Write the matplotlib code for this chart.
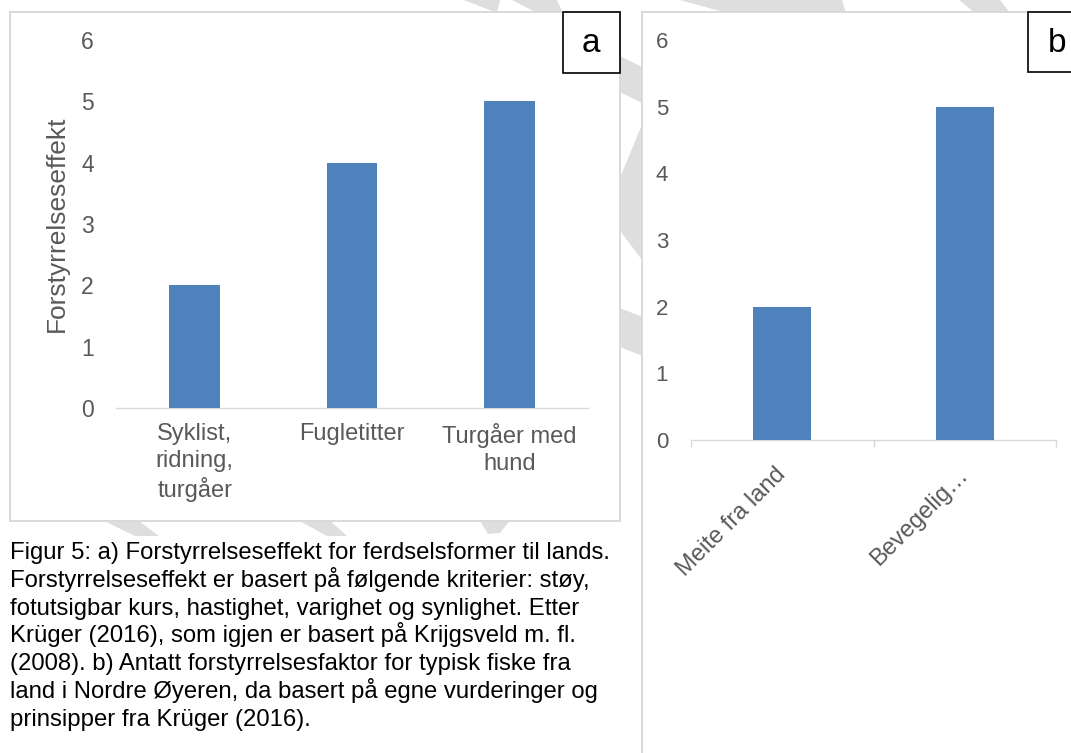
import matplotlib
matplotlib.use("Agg")
import matplotlib.pyplot as plt
from matplotlib.patches import Rectangle, Polygon
from matplotlib.transforms import ScaledTranslation

plt.rcParams['font.family'] = ['Liberation Sans', 'DejaVu Sans']

# figure size in pixels (dpi 100)
W, H = 1071, 753

# a) ferdselsformer til lands
kategorier_a = ['Syklist,\nridning,\nturgåer', 'Fugletitter', 'Turgåer med\nhund']
effekt_a = [2, 4, 5]

# b) fiske fra land
kategorier_b = ['Meite fra land', 'Bevegelig…']
effekt_b = [2, 5]

y_ticks = [0, 1, 2, 3, 4, 5, 6]

caption_lines = [
    'Figur 5: a) Forstyrrelseseffekt for ferdselsformer til lands.',
    'Forstyrrelseseffekt er basert på følgende kriterier: støy,',
    'fotutsigbar kurs, hastighet, varighet og synlighet. Etter',
    'Krüger (2016), som igjen er basert på Krijgsveld m. fl.',
    '(2008). b) Antatt forstyrrelsesfaktor for typisk fiske fra',
    'land i Nordre Øyeren, da basert på egne vurderinger og',
    'prinsipper fra Krüger (2016).',
]

bar_color = '#4f81bd'
grey_text = '#595959'
axis_grey = '#d9d9d9'
mark_grey = '#dedede'


def px(x, y):
    # pixel coords (origin top-left) -> figure fraction
    return (x / W, 1 - y / H)


def px_rect(x0, y0, x1, y1, **kw):
    return Rectangle(px(x0, y1), (x1 - x0) / W, (y1 - y0) / H,
                     transform=fig.transFigure, **kw)


fig = plt.figure(figsize=(W / 100, H / 100), dpi=100)

# faint draft watermark, only visible between the panels
watermark = [
    [(464, 0), (500, 0), (497, 13)],
    [(512, 0), (557, 0), (563, 13), (537, 13)],
    [(680, 0), (842, 0), (846, 13), (720, 11)],
    [(959, 0), (1000, 0), (1010, 13), (975, 13)],
    [(612, 52), (648, 70), (648, 106), (612, 88)],
    [(612, 197), (648, 110), (648, 268), (612, 220)],
    [(612, 305), (648, 319), (648, 358), (612, 344)],
    [(98, 518), (135, 518), (159, 536), (135, 536)],
    [(294, 518), (327, 518), (347, 536), (327, 536)],
    [(478, 518), (512, 518), (500, 533), (488, 534)],
]
for pts in watermark:
    fig.patches.append(Polygon([px(x, y) for x, y in pts], closed=True,
                               transform=fig.transFigure, facecolor=mark_grey,
                               edgecolor='none', zorder=0))

# panel frames
fig.patches.append(px_rect(9.5, 12, 619.5, 521, facecolor='white',
                           edgecolor=axis_grey, lw=1.4, zorder=1))
fig.patches.append(px_rect(642, 12, 1090, 770, facecolor='white',
                           edgecolor=axis_grey, lw=1.4, zorder=1))

# ---- panel a ----
ax1 = fig.add_axes([116 / W, 1 - 408 / H, (588 - 116) / W, (408 - 40) / H])
ax1.set_zorder(3)
ax1.set_facecolor('none')
xa = list(range(len(kategorier_a)))
ax1.bar(xa, effekt_a, width=0.32, color=bar_color, zorder=3)
ax1.set_xlim(-0.5, len(kategorier_a) - 0.5)
ax1.set_ylim(0, 6)
ax1.set_yticks(y_ticks)
ax1.set_xticks(xa)
ax1.set_xticklabels(kategorier_a, linespacing=1.25)
for s in ['top', 'right', 'left']:
    ax1.spines[s].set_visible(False)
ax1.spines['bottom'].set_color(axis_grey)
ax1.spines['bottom'].set_linewidth(1.0)
ax1.tick_params(axis='x', length=0, pad=11, labelsize=17, labelcolor=grey_text)
ax1.tick_params(axis='y', length=0, pad=16, labelsize=16.5, labelcolor=grey_text)
ax1.set_ylabel('Forstyrrelseseffekt', fontsize=19, color=grey_text)
ax1.yaxis.set_label_coords(-0.1, 0.5)

# ---- panel b ----
ax2 = fig.add_axes([691 / W, 1 - 440 / H, (1056 - 691) / W, (440 - 40) / H])
ax2.set_zorder(3)
ax2.set_facecolor('none')
xb = list(range(len(kategorier_b)))
ax2.bar(xb, effekt_b, width=0.318, color=bar_color, zorder=3)
ax2.set_xlim(-0.5, len(kategorier_b) - 0.5)
ax2.set_ylim(0, 6)
ax2.set_yticks(y_ticks)
ax2.set_xticks(xb)
ax2.set_xticks([i - 0.5 for i in range(len(kategorier_b) + 1)], minor=True)
ax2.set_xticklabels(kategorier_b, rotation=45, ha='right', va='top',
                    rotation_mode='anchor')
for s in ['top', 'right', 'left']:
    ax2.spines[s].set_visible(False)
ax2.spines['bottom'].set_color(axis_grey)
ax2.spines['bottom'].set_linewidth(1.0)
ax2.tick_params(axis='x', which='major', length=0, pad=17, labelsize=17,
                labelcolor=grey_text)
ax2.tick_params(axis='x', which='minor', length=5, width=1.0, color=axis_grey)
ax2.tick_params(axis='y', length=0, pad=16.5, labelsize=16, labelcolor=grey_text)
shift = ScaledTranslation(-8 / 100, 0, fig.dpi_scale_trans)
for lab in ax2.get_xticklabels():
    lab.set_transform(lab.get_transform() + shift)

# panel letters
fig.patches.append(px_rect(563, 12, 620, 73, facecolor='white',
                           edgecolor='black', lw=1.2, zorder=5))
fig.text(*px(591, 44), 'a', fontsize=24, ha='center', va='center', zorder=6)
fig.patches.append(px_rect(1028, 12, 1090, 72, facecolor='white',
                           edgecolor='black', lw=1.2, zorder=5))
fig.text(*px(1057, 44), 'b', fontsize=24, ha='center', va='center', zorder=6)

# caption
for i, line in enumerate(caption_lines):
    fig.text(*px(10, 559 + 27.8 * i), line, fontsize=17.2, color='black',
             ha='left', va='baseline')

fig.savefig('out.png', dpi=100)
